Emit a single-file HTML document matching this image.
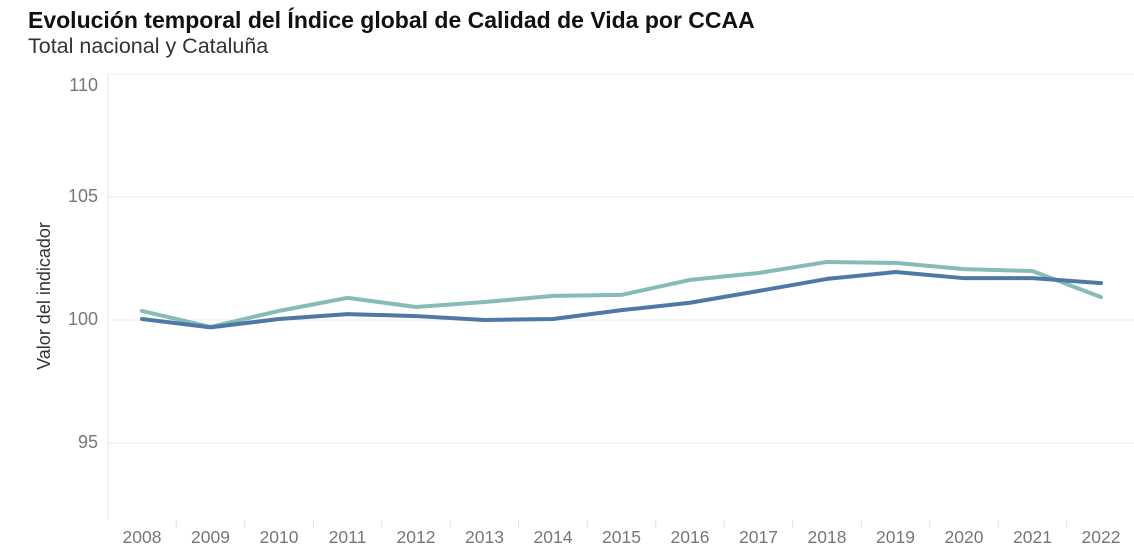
<!DOCTYPE html>
<html><head><meta charset="utf-8">
<style>
body{margin:0;background:#fff;font-family:"Liberation Sans",sans-serif;}
svg{display:block}
</style></head>
<body>
<svg id="chart" width="1134" height="556">
<text x="28" y="28" font-size="23" font-weight="bold" fill="#111">Evolución temporal del Índice global de Calidad de Vida por CCAA</text>
<text x="28" y="53" font-size="21.5" fill="#333">Total nacional y Cataluña</text>
<text transform="translate(50,296) rotate(-90)" text-anchor="middle" font-size="18" fill="#333">Valor del indicador</text>
<g id="grid"></g><g id="series"></g><g id="xlabels"></g>
</svg>
<script>
const years=["2008","2009","2010","2011","2012","2013","2014","2015","2016","2017","2018","2019","2020","2021","2022"];
const cataluna=[100.37,99.72,100.37,100.9,100.53,100.73,100.98,101.02,101.63,101.91,102.36,102.32,102.07,101.99,100.93];
const nacional=[100.04,99.7,100.04,100.24,100.16,100.0,100.04,100.4,100.7,101.18,101.67,101.95,101.7,101.7,101.5];
const yTicks=[95,100,105,110];
const svgNS="http://www.w3.org/2000/svg";
const x0=142,dx=68.5,plotL=108,plotR=1134,plotT=73,plotB=520;
const xs=i=>x0+i*dx;
const ys=v=>320-(v-100)*24.6;
function mk(t,a,parent){const e=document.createElementNS(svgNS,t);for(const k in a)e.setAttribute(k,a[k]);parent.appendChild(e);return e;}
const grid=document.getElementById('grid');
yTicks.forEach(v=>{
  const l=mk('line',{x1:plotL,x2:plotR,y1:ys(v),y2:ys(v),stroke:'#ececec','stroke-width':1},grid);
  
  
  const ty=v===110?ys(v)+17:ys(v)+5;
  const t=mk('text',{x:98,y:ty,'text-anchor':'end','font-size':18,fill:'#777'},grid);
  t.textContent=v;
  
  
});
const ax=mk('line',{x1:plotL,x2:plotL,y1:plotT,y2:plotB,stroke:'#e6e6e6'},grid);


const xl=document.getElementById('xlabels');
years.forEach((y,i)=>{
  if(i>0){const tk=mk('line',{x1:xs(i)-dx/2,x2:xs(i)-dx/2,y1:plotB,y2:plotB+8,stroke:'#e0e0e0'},xl);
  
  }
  const t=mk('text',{x:xs(i),y:543,'text-anchor':'middle','font-size':17.5,fill:'#777'},xl);
  t.textContent=y;
  
  
});
const s=document.getElementById('series');
function line(data,color,name){
  const p=mk('polyline',{points:data.map((v,i)=>xs(i)+','+ys(v)).join(' '),fill:'none',stroke:color,'stroke-width':4,'stroke-linejoin':'round','stroke-linecap':'round'},s);
  
  
}
line(cataluna,'#86bcb6','series-cataluna');
line(nacional,'#4e79a7','series-total-nacional');
</script>
</body></html>
